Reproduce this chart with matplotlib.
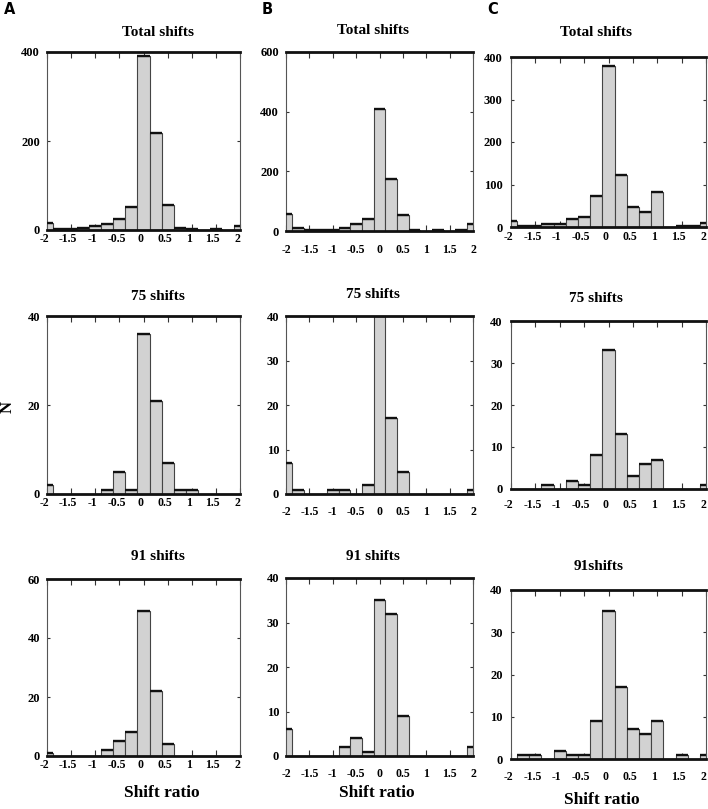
import matplotlib
matplotlib.use("Agg")
import matplotlib.pyplot as plt
import matplotlib.transforms as mtransforms
import numpy as np

plt.rcParams['font.family'] = ['Liberation Serif', 'DejaVu Serif']
plt.rcParams['font.weight'] = 'bold'
plt.rcParams['axes.unicode_minus'] = False

# ---------------- data ----------------
bin_centers = [-2, -1.75, -1.5, -1.25, -1, -0.75, -0.5, -0.25, 0,
               0.25, 0.5, 0.75, 1, 1.25, 1.5, 1.75, 2]
x_ticks = [-2, -1.5, -1, -0.5, 0, 0.5, 1, 1.5, 2]
x_tick_labels = ['-2', '-1.5', '-1', '-0.5', '0', '0.5', '1', '1.5', '2']

A_total = [16, 2, 2, 5, 9, 13, 24, 51, 390, 219, 56, 5, 2, 0, 2, 0, 10]
B_total = [56, 9, 3, 3, 3, 9, 25, 40, 408, 175, 55, 3, 0, 3, 0, 3, 25]
C_total = [13, 3, 3, 7, 6, 20, 23, 72, 380, 123, 47, 35, 82, 0, 3, 3, 10]

A_75 = [2, 0, 0, 0, 0, 1, 5, 1, 36, 21, 7, 1, 1, 0, 0, 0, 0]
B_75 = [7, 1, 0, 0, 1, 1, 0, 2, 40, 17, 5, 0, 0, 0, 0, 0, 1]
C_75 = [0, 0, 0, 1, 0, 2, 1, 8, 33, 13, 3, 6, 7, 0, 0, 0, 1]

A_91 = [1, 0, 0, 0, 0, 2, 5, 8, 49, 22, 4, 0, 0, 0, 0, 0, 0]
B_91 = [6, 0, 0, 0, 0, 2, 4, 1, 35, 32, 9, 0, 0, 0, 0, 0, 2]
C_91 = [0, 1, 1, 0, 2, 1, 1, 9, 35, 17, 7, 6, 9, 0, 1, 0, 1]

titles = [['Total shifts', 'Total shifts', 'Total shifts'],
          ['75 shifts', '75 shifts', '75 shifts'],
          ['91 shifts', '91 shifts', '91shifts']]
series = [[A_total, B_total, C_total],
          [A_75, B_75, C_75],
          [A_91, B_91, C_91]]
y_limits = [[400, 600, 400], [40, 40, 40], [60, 40, 40]]
y_ticks = [[[0, 200, 400], [0, 200, 400, 600], [0, 100, 200, 300, 400]],
           [[0, 20, 40], [0, 10, 20, 30, 40], [0, 10, 20, 30, 40]],
           [[0, 20, 40, 60], [0, 10, 20, 30, 40], [0, 10, 20, 30, 40]]]

# ---------------- layout (pixels) ----------------
W, H = 708, 809
fig = plt.figure(figsize=(W / 100, H / 100), dpi=100)

# (left, right, top, bottom) in pixels
boxes = [[(47, 240, 52, 230), (286, 473, 52, 231), (511, 706, 57, 227)],
         [(47, 240, 316, 494), (286, 473, 316, 494), (511, 706, 321, 489)],
         [(47, 240, 579, 756), (286, 473, 578, 756), (511, 706, 590, 759)]]
title_pos = [[(158, 32), (373, 31), (596, 33)],
             [(158, 296), (373, 295), (596, 299)],
             [(158, 557), (373, 557), (599, 567)]]
xlabel_pad = [[2.5, 9.5, 3.0], [2.0, 8.5, 7.5], [2.5, 8.5, 9.0]]
ylabel_pad = [5, 5, 6]
label_shift_px = [-3, 0, -3]   # horizontal offset of x tick labels per column


def fx(px):
    return px / W


def fy(py):
    return 1 - py / H


for r in range(3):
    for c in range(3):
        l, rt, t, b = boxes[r][c]
        ax = fig.add_axes([fx(l), fy(b), fx(rt) - fx(l), fy(t) - fy(b)])
        vals = np.array(series[r][c], dtype=float)
        cen = np.array(bin_centers, dtype=float)
        ax.bar(cen, vals, width=0.25, color='#d2d2d2', edgecolor='#444444',
               linewidth=0.8, zorder=2)
        nz = vals > 0
        ax.hlines(vals[nz], cen[nz] - 0.125, cen[nz] + 0.125, color='#111111',
                  linewidth=1.7, zorder=3)
        ax.set_xlim(-2, 2)
        ax.set_ylim(0, y_limits[r][c])
        ax.set_xticks(x_ticks)
        ax.set_xticklabels(x_tick_labels, fontsize=8.5, fontweight='bold')
        ax.set_yticks(y_ticks[r][c])
        ax.set_yticklabels([str(v) for v in y_ticks[r][c]], fontsize=9,
                           fontweight='bold')
        ax.tick_params(axis='x', direction='in', top=True, bottom=True,
                       length=4, width=0.8, color='#333333',
                       pad=xlabel_pad[r][c])
        ax.tick_params(axis='y', direction='in', left=True, right=True,
                       length=2, width=0.8, color='#333333',
                       pad=ylabel_pad[c])
        if label_shift_px[c] != 0:
            off = mtransforms.ScaledTranslation(label_shift_px[c] / 100, 0,
                                                fig.dpi_scale_trans)
            for lab in ax.get_xticklabels():
                lab.set_transform(lab.get_transform() + off)
        for s in ['top', 'bottom']:
            ax.spines[s].set_linewidth(2.0)
            ax.spines[s].set_color('#111111')
        for s in ['left', 'right']:
            ax.spines[s].set_linewidth(0.8)
            ax.spines[s].set_color('#555555')
        ax.spines['bottom'].set_zorder(4)
        tx, ty = title_pos[r][c]
        fig.text(fx(tx), fy(ty), titles[r][c], ha='center', va='center',
                 fontsize=11, fontweight='bold')

# panel letters
for letter, px in [('A', 4), ('B', 262), ('C', 487)]:
    fig.text(fx(px), fy(10), letter, ha='left', va='center', fontsize=10.5,
             fontweight='bold', family='DejaVu Sans')

# y label
fig.text(fx(8), fy(407), 'N', rotation=90, ha='center', va='center',
         fontsize=12, fontweight='bold')

# x labels
for px, py in [(162, 793), (377, 793), (602, 800)]:
    fig.text(fx(px), fy(py), 'Shift ratio', ha='center', va='center',
             fontsize=12.5, fontweight='bold')

fig.savefig('out.png', dpi=100)
